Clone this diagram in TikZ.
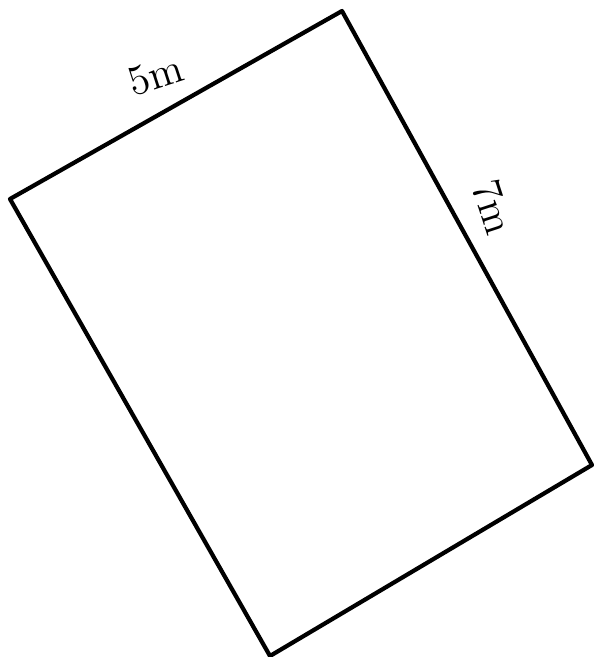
\documentclass[tikz,border=0pt]{standalone}
\usepackage{tikz}
\usetikzlibrary{positioning}

\begin{document}
\begin{tikzpicture}[
  edge/.style={draw=black,line width=1.2pt,line join=round,line cap=round},
  dim/.style={font=\large,inner sep=1pt}
]
\useasboundingbox (0,0) rectangle (5.94,6.57);
\coordinate (left) at (0.10,4.58);
\coordinate (top) at (3.42,6.46);
\coordinate (right) at (5.92,1.92);
\coordinate (bottom) at (2.70,0.01);
\draw[edge] (left) -- (top) -- (right) -- (bottom) -- cycle;
\node[dim,rotate=18] (width) at (1.56,5.82) {5m};
\node[dim,rotate=-72] (length) at (4.93,4.50) {7m};
\end{tikzpicture}
\end{document}
